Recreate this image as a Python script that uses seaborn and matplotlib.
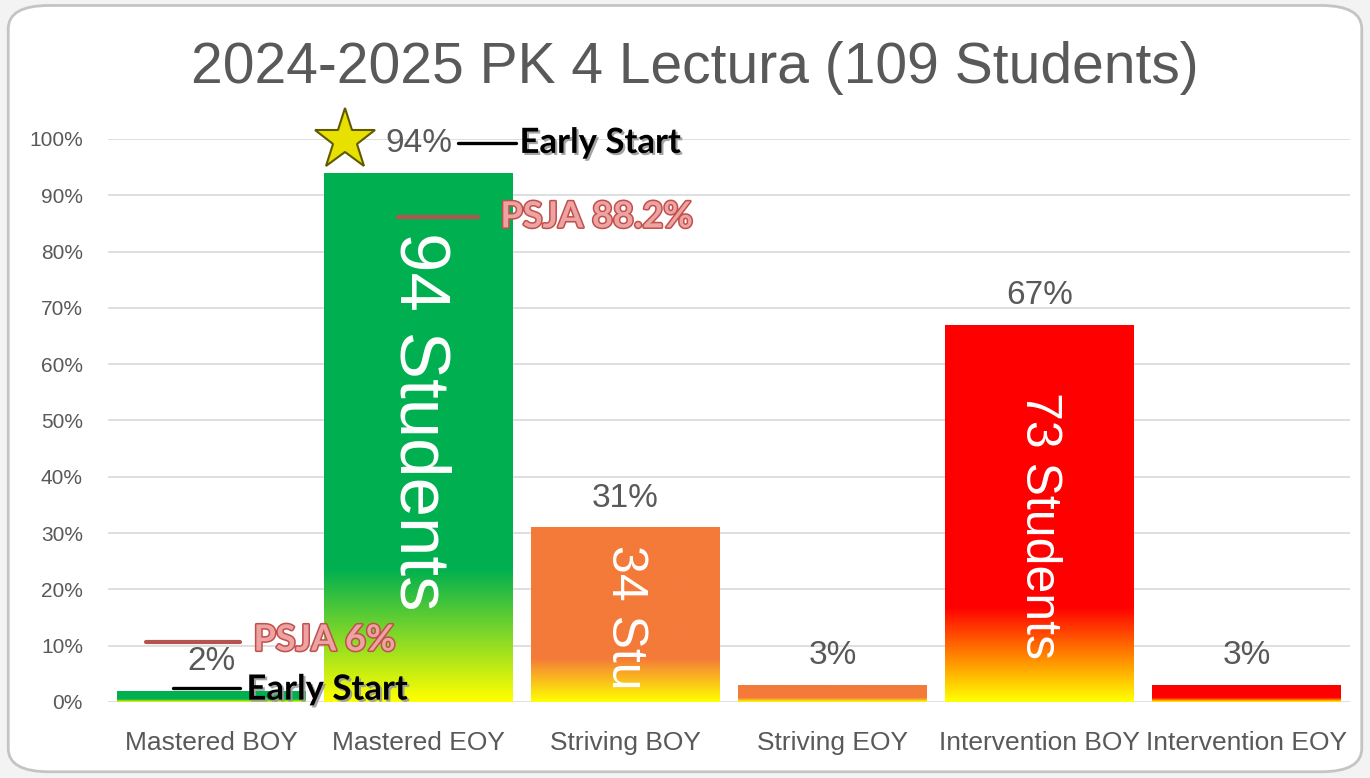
import numpy as np
import pandas as pd
import matplotlib
matplotlib.use("Agg")
import matplotlib.pyplot as plt
import matplotlib.patheffects as pe
from matplotlib.colors import to_rgba
from matplotlib.patches import FancyBboxPatch
import seaborn as sns

# ---------------- data ----------------
categories = ["Mastered BOY", "Mastered EOY", "Striving BOY",
              "Striving EOY", "Intervention BOY", "Intervention EOY"]
values = [0.02, 0.94, 0.31, 0.03, 0.67, 0.03]
value_labels = ["2%", "94%", "31%", "3%", "67%", "3%"]
bar_colors = ["#00B050", "#00B050", "#F47A3A", "#F47A3A", "#FF0000", "#FF0000"]
student_labels = ["", "94 Students", "34 Stu", "", "73 Students", ""]
title = "2024-2025 PK 4 Lectura (109 Students)"
psja_high_label = "PSJA 88.2%"
psja_low_label = "PSJA 6%"
early_label = "Early Start"
yticks = [0, 0.1, 0.2, 0.3, 0.4, 0.5, 0.6, 0.7, 0.8, 0.9, 1.0]
ytick_labels = ["0%", "10%", "20%", "30%", "40%", "50%", "60%", "70%", "80%", "90%", "100%"]

# ---------------- style ----------------
sns.set_theme(style="white")
plt.rcParams["font.family"] = ["Liberation Sans", "DejaVu Sans"]
GRAY = "#595959"

fig = plt.figure(figsize=(13.7, 7.78), dpi=100)
fig.patch.set_facecolor("#f3f3f3")
card = FancyBboxPatch((0.006, 0.008), 0.988, 0.985,
                      boxstyle="round,pad=0,rounding_size=0.03",
                      transform=fig.transFigure, facecolor="white",
                      edgecolor="#c4c4c4", linewidth=2.0, zorder=-10)
fig.patches.append(card)

ax = fig.add_axes([0.0788, 0.0977, 0.9066, 0.7237])
ax.set_facecolor("none")
ax.set_zorder(1)

df = pd.DataFrame({"cat": categories, "val": values})
sns.barplot(data=df, x="cat", y="val", hue="cat", palette=bar_colors,
            width=0.91, legend=False, ax=ax, saturation=1, zorder=2)

ax.set_ylim(0, 1.0)
ax.set_xlim(-0.5, len(categories) - 0.5)

# gradient fills: yellow at bottom blending into bar color over bottom quarter
yellow = np.array(to_rgba("#FFFF00"))
for patch, col in zip(list(ax.patches), bar_colors):
    x0, w = patch.get_x(), patch.get_width()
    h = patch.get_height()
    n = 200
    t = np.linspace(0, 1, n)
    frac = np.clip(t / 0.25, 0, 1)[:, None]
    c = np.array(to_rgba(col))
    grad = (yellow * (1 - frac) + c * frac).reshape(n, 1, 4)
    im = ax.imshow(grad, extent=[x0, x0 + w, 0, h], origin="lower",
                   aspect="auto", zorder=2, interpolation="bilinear")
    im.set_clip_path(patch)
    patch.set_facecolor("none")
    patch.set_edgecolor("none")

ax.set_xlim(-0.5, len(categories) - 0.5)
ax.set_ylim(0, 1.0)
ax.set_aspect("auto")

# grid / ticks
ax.set_yticks(yticks)
ax.set_yticklabels(ytick_labels)
ax.yaxis.grid(True, color="#d9d9d9", linewidth=1.2, zorder=0)
ax.set_axisbelow(True)
for s in ax.spines.values():
    s.set_visible(False)
ax.tick_params(axis="y", labelsize=15, labelcolor=GRAY, length=0, pad=18)
ax.tick_params(axis="x", labelsize=19, labelcolor=GRAY, length=0, pad=21)
ax.set_xlabel("")
ax.set_ylabel("")

# value labels
for i, (v, lab) in enumerate(zip(values, value_labels)):
    ax.annotate(lab, (i, v), xytext=(0, 10), textcoords="offset points",
                ha="center", va="bottom", fontsize=24, color=GRAY,
                annotation_clip=False, zorder=4)

# in-bar student labels
label_tops = {1: 0.835, 2: 0.279, 4: 0.55}
label_sizes = {1: 51, 2: 36, 4: 36}
for i, lab in enumerate(student_labels):
    if not lab:
        continue
    ax.text(i, label_tops[i], lab, rotation=-90, ha="center", va="top",
            fontsize=label_sizes[i], color="white", zorder=5)

# title
fig.text(0.507, 0.912, title, ha="center", va="center", fontsize=41, color=GRAY)

# annotations
shadow = [pe.SimplePatchShadow(offset=(1.5, -1.5), shadow_rgbFace="#9a9a9a", alpha=0.9),
          pe.Normal()]
outline = [pe.Stroke(linewidth=2.2, foreground="#C0504D"), pe.Normal()]
ann_font = ["Lato", "DejaVu Sans"]

# star
ax.plot([0.647], [0.998], marker="*", markersize=46, color="#E8E000",
        markeredgecolor="#5f5a00", markeredgewidth=1.5, clip_on=False, zorder=6)

# Early Start (top)
ax.plot([1.193, 1.469], [0.993, 0.993], color="black", lw=2.4, clip_on=False, zorder=6)
ax.text(1.488, 0.993, early_label, ha="left", va="center", fontsize=25,
        fontweight="bold", family=ann_font, color="black",
        path_effects=shadow, clip_on=False, zorder=6)

# PSJA 88.2%
ax.plot([0.903, 1.290], [0.8615, 0.8615], color="#B5544E", lw=3, clip_on=False, zorder=6)
ax.text(1.396, 0.8615, psja_high_label, ha="left", va="center", fontsize=26,
        fontweight="bold", family=ann_font, color="#ECA3A1",
        path_effects=outline, clip_on=False, zorder=6)

# PSJA 6%
ax.plot([-0.314, 0.140], [0.1066, 0.1066], color="#B5544E", lw=3, clip_on=False, zorder=6)
ax.text(0.203, 0.110, psja_low_label, ha="left", va="center", fontsize=26,
        fontweight="bold", family=ann_font, color="#ECA3A1",
        path_effects=outline, clip_on=False, zorder=6)

# Early Start (bottom)
ax.plot([-0.188, 0.140], [0.0249, 0.0249], color="black", lw=2.4, clip_on=False, zorder=6)
ax.text(0.169, 0.022, early_label, ha="left", va="center", fontsize=25,
        fontweight="bold", family=ann_font, color="black",
        path_effects=shadow, clip_on=False, zorder=6)

fig.savefig("out.png", dpi=100, facecolor=fig.get_facecolor())
